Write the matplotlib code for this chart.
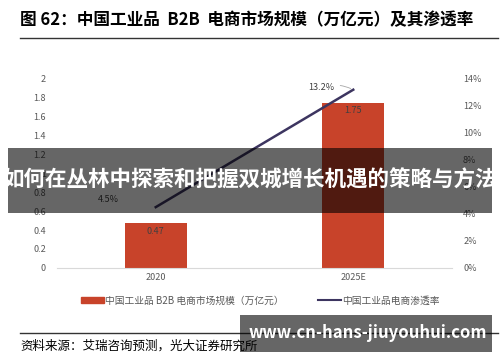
import matplotlib
matplotlib.use("Agg")
import matplotlib.pyplot as plt
from matplotlib.patches import Rectangle

plt.rcParams['font.family'] = ['Noto Sans CJK SC', 'DejaVu Sans']

# 数据
categories = ["2020", "2025E"]
market_size = [0.47, 1.75]          # 万亿元
penetration = [4.5, 13.2]           # %
left_ticks = [0, 0.2, 0.4, 0.6, 0.8, 1, 1.2, 1.4, 1.6, 1.8, 2]
right_ticks = [0, 2, 4, 6, 8, 10, 12, 14]

bar_color = "#C8432A"
line_color = "#3D3560"
tick_color = "#595959"

fig = plt.figure(figsize=(5, 3.62), dpi=100)

# 标题与分隔线
fig.text(0.04, 0.945, "图 62：中国工业品  B2B  电商市场规模（万亿元）及其渗透率",
         fontsize=12, fontweight="bold", va="center", ha="left")
fig.add_artist(plt.Line2D([0.04, 0.995], [0.895, 0.895], color="#333333", lw=1))

ax = fig.add_axes([0.114, 0.26, 0.79, 0.522])
x = list(range(len(categories)))
bars = ax.bar(x, market_size, width=0.315, color=bar_color, zorder=2)
for xi, v in zip(x, market_size):
    ax.text(xi, v - 0.08, f"{v:.2f}", ha="center", va="center",
            fontsize=6.5, color="#404040")

ax.set_xlim(-0.5, 1.5)
ax.set_ylim(0, 2)
ax.set_yticks(left_ticks)
ax.set_yticklabels([f"{t:g}" for t in left_ticks])
ax.set_xticks(x)
ax.set_xticklabels(categories)
for s in ["top", "right", "left"]:
    ax.spines[s].set_visible(False)
ax.spines["bottom"].set_color("#D9D9D9")
ax.tick_params(axis="both", length=0, labelsize=6.5, labelcolor=tick_color)
ax.tick_params(axis="y", pad=8)

ax2 = ax.twinx()
ax2.plot(x, penetration, color=line_color, lw=1.8, zorder=3)
ax2.set_ylim(0, 14)
ax2.set_yticks(right_ticks)
ax2.set_yticklabels([f"{t}%" for t in right_ticks])
for s in ["top", "right", "left", "bottom"]:
    ax2.spines[s].set_visible(False)
ax2.tick_params(axis="y", length=0, labelsize=6.5, labelcolor=tick_color, pad=8)

ax2.annotate(f"{penetration[0]}%", xy=(x[0], penetration[0]),
             xytext=(-0.24, penetration[0] + 0.55), fontsize=6.5, color="#404040",
             ha="center", va="center")
ax2.annotate(f"{penetration[1]}%", xy=(x[1], penetration[1]),
             xytext=(0.84, penetration[1] + 0.2), fontsize=6.5, color="#404040",
             ha="center", va="center",
             arrowprops=dict(arrowstyle="-", color="#A6A6A6", lw=0.6,
                             connectionstyle="arc3,rad=-0.2"))

# 图例
h1 = Rectangle((0, 0), 1, 1, color=bar_color)
h2 = plt.Line2D([0], [0], color=line_color, lw=1.5)
fig.legend([h1, h2], ["中国工业品 B2B 电商市场规模（万亿元）", "中国工业品电商渗透率"],
           loc="center", bbox_to_anchor=(0.52, 0.17), ncol=2, frameon=False,
           fontsize=7, labelcolor=tick_color, handlelength=2.4,
           handleheight=0.6, columnspacing=3.5, handletextpad=0.1)

# 底部来源
fig.add_artist(plt.Line2D([0.04, 0.995], [0.08, 0.08], color="#333333", lw=1))
fig.text(0.04, 0.045, "资料来源：艾瑞咨询预测，光大证券研究所", fontsize=9,
         va="center", ha="left")

# 水印遮罩
fig.add_artist(Rectangle((0.016, 0.412), 0.968, 0.18, transform=fig.transFigure,
                         color="black", alpha=0.6, lw=0, zorder=10))
fig.text(0.5, 0.502, "如何在丛林中探索和把握双城增长机遇的策略与方法", color="white",
         fontsize=15.5, fontweight="bold", ha="center", va="center", zorder=11)
fig.add_artist(Rectangle((0.48, 0.028), 0.504, 0.102, transform=fig.transFigure,
                         color="black", alpha=0.6, lw=0, zorder=10))
fig.text(0.735, 0.08, "www.cn-hans-jiuyouhui.com", color="white",
         fontsize=12, fontweight="bold", ha="center", va="center", zorder=11)

fig.savefig("out.png", dpi=100)
